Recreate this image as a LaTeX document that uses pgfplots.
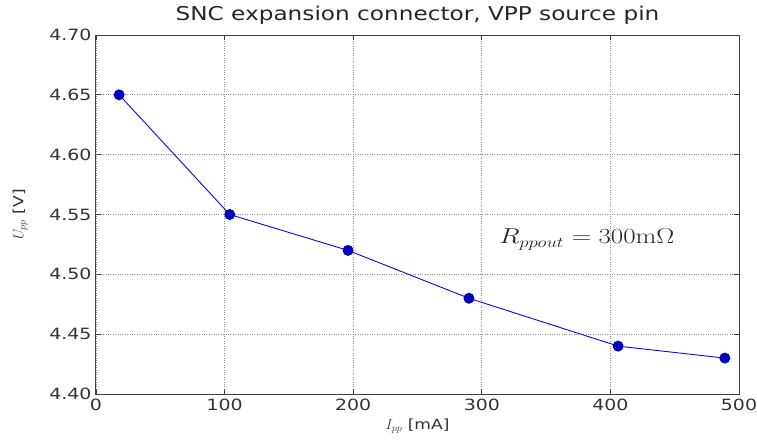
\documentclass[border=0pt]{standalone}
\usepackage{pgfplots}
\pgfplotsset{compat=1.18}
\usepackage[no-math]{fontspec}
\setmainfont{DejaVu Sans}[FakeStretch=1.22]
\begin{document}
\begin{tikzpicture}
\begin{axis}[
  scale only axis,
  width=643pt, height=359pt,
  xmin=0, xmax=500, ymin=4.40, ymax=4.70,
  xtick={0,100,200,300,400,500},
  ytick={4.40,4.45,4.50,4.55,4.60,4.65,4.70},
  yticklabel style={xshift=-1pt, /pgf/number format/.cd,fixed,fixed zerofill,precision=2},
  /pgf/number format/assume math mode=true,
  tick label style={font=\fontsize{15.5}{17}\selectfont, text=black!80},
  xticklabel style={yshift=-1pt},
  grid=major,
  major grid style={black!45, dotted, line width=0.7pt},
  axis line style={black!75, line width=1pt},
  tick style={black!75, line width=0.8pt},
  tick align=inside,
  major tick length=5pt,
  title={SNC expansion connector, VPP source pin},
  title style={font=\fontsize{19}{21}\selectfont, text=black!85, at={(0.5,1)}, anchor=base, yshift=9pt},
  xlabel={$I_{pp}$ [mA]},
  ylabel={$U_{pp}$ [V]},
  label style={font=\fontsize{14}{16}\selectfont, text=black!80},
  xlabel style={at={(0.5,0)}, anchor=base, yshift=-35pt},
  ylabel shift=15pt,
]
\addplot[blue!90!red, line width=0.9pt, mark=*, mark size=5pt, mark options={fill=blue!75!black, draw=blue!75!black}]
 coordinates {(18,4.65) (104,4.55) (196,4.52) (290,4.48) (406,4.44) (489,4.43)};
\node[anchor=west, font=\fontsize{20}{22}\selectfont, xscale=1.3, yscale=1.04, text=black!85] at (axis cs:310,4.529) {$R_{ppout} = 300\mathrm{m}\Omega$};
\end{axis}
\pgfresetboundingbox
\path[use as bounding box] ([shift={(-96pt,-48pt)}]current axis.south west) rectangle ([shift={(18pt,35pt)}]current axis.north east);
\end{tikzpicture}
\end{document}
